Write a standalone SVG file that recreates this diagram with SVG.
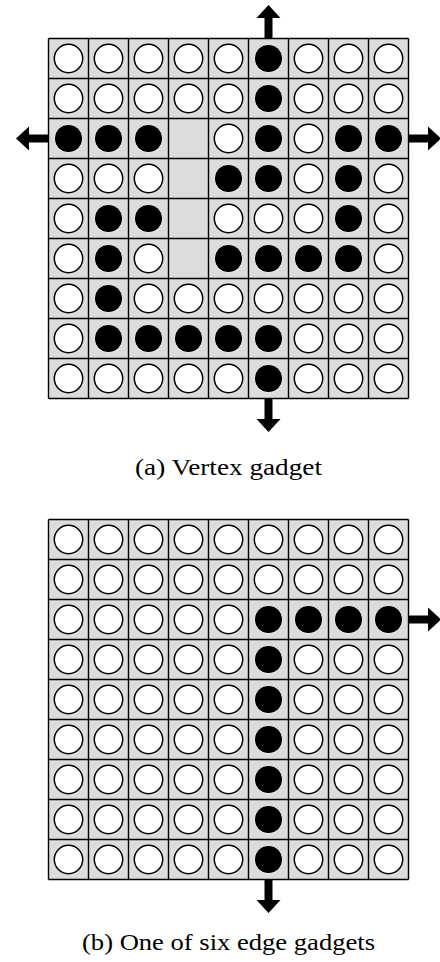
<svg xmlns="http://www.w3.org/2000/svg" width="440" height="962" viewBox="0 0 440 962">
<style>
.bg{fill:#dcdcdc}
.grid{fill:none;stroke:#000;stroke-width:1.4}
.cap{font-family:"Liberation Serif","Times New Roman",Times,serif;font-size:23.5px;fill:#000}
.arrow{fill:#000}
</style>
<defs>
<circle id="w" r="14.2" fill="#fff" stroke="#000" stroke-width="1.5"/>
<circle id="b" r="14.2" fill="#000" stroke="#fff" stroke-width="1"/>
</defs>
<rect width="440" height="962" fill="#fff"/>
<g id="vertex-gadget">
<rect class="bg" x="48.5" y="38.5" width="360" height="360"/>
<path class="grid" d="M48.5 38.5V398.5M88.5 38.5V398.5M128.5 38.5V398.5M168.5 38.5V398.5M208.5 38.5V398.5M248.5 38.5V398.5M288.5 38.5V398.5M328.5 38.5V398.5M368.5 38.5V398.5M408.5 38.5V398.5M48.5 38.5H408.5M48.5 78.5H408.5M48.5 118.5H408.5M48.5 158.5H408.5M48.5 198.5H408.5M48.5 238.5H408.5M48.5 278.5H408.5M48.5 318.5H408.5M48.5 358.5H408.5M48.5 398.5H408.5"/>
<!-- row 0 -->
<use href="#w" x="68.5" y="58.5"/><use href="#w" x="108.5" y="58.5"/><use href="#w" x="148.5" y="58.5"/><use href="#w" x="188.5" y="58.5"/><use href="#w" x="228.5" y="58.5"/><use href="#b" x="268.5" y="58.5"/><use href="#w" x="308.5" y="58.5"/><use href="#w" x="348.5" y="58.5"/><use href="#w" x="388.5" y="58.5"/>
<!-- row 1 -->
<use href="#w" x="68.5" y="98.5"/><use href="#w" x="108.5" y="98.5"/><use href="#w" x="148.5" y="98.5"/><use href="#w" x="188.5" y="98.5"/><use href="#w" x="228.5" y="98.5"/><use href="#b" x="268.5" y="98.5"/><use href="#w" x="308.5" y="98.5"/><use href="#w" x="348.5" y="98.5"/><use href="#w" x="388.5" y="98.5"/>
<!-- row 2 -->
<use href="#b" x="68.5" y="138.5"/><use href="#b" x="108.5" y="138.5"/><use href="#b" x="148.5" y="138.5"/><use href="#w" x="228.5" y="138.5"/><use href="#b" x="268.5" y="138.5"/><use href="#w" x="308.5" y="138.5"/><use href="#b" x="348.5" y="138.5"/><use href="#b" x="388.5" y="138.5"/>
<!-- row 3 -->
<use href="#w" x="68.5" y="178.5"/><use href="#w" x="108.5" y="178.5"/><use href="#w" x="148.5" y="178.5"/><use href="#b" x="228.5" y="178.5"/><use href="#b" x="268.5" y="178.5"/><use href="#w" x="308.5" y="178.5"/><use href="#b" x="348.5" y="178.5"/><use href="#w" x="388.5" y="178.5"/>
<!-- row 4 -->
<use href="#w" x="68.5" y="218.5"/><use href="#b" x="108.5" y="218.5"/><use href="#b" x="148.5" y="218.5"/><use href="#w" x="228.5" y="218.5"/><use href="#w" x="268.5" y="218.5"/><use href="#w" x="308.5" y="218.5"/><use href="#b" x="348.5" y="218.5"/><use href="#w" x="388.5" y="218.5"/>
<!-- row 5 -->
<use href="#w" x="68.5" y="258.5"/><use href="#b" x="108.5" y="258.5"/><use href="#w" x="148.5" y="258.5"/><use href="#b" x="228.5" y="258.5"/><use href="#b" x="268.5" y="258.5"/><use href="#b" x="308.5" y="258.5"/><use href="#b" x="348.5" y="258.5"/><use href="#w" x="388.5" y="258.5"/>
<!-- row 6 -->
<use href="#w" x="68.5" y="298.5"/><use href="#b" x="108.5" y="298.5"/><use href="#w" x="148.5" y="298.5"/><use href="#w" x="188.5" y="298.5"/><use href="#w" x="228.5" y="298.5"/><use href="#w" x="268.5" y="298.5"/><use href="#w" x="308.5" y="298.5"/><use href="#w" x="348.5" y="298.5"/><use href="#w" x="388.5" y="298.5"/>
<!-- row 7 -->
<use href="#w" x="68.5" y="338.5"/><use href="#b" x="108.5" y="338.5"/><use href="#b" x="148.5" y="338.5"/><use href="#b" x="188.5" y="338.5"/><use href="#b" x="228.5" y="338.5"/><use href="#b" x="268.5" y="338.5"/><use href="#w" x="308.5" y="338.5"/><use href="#w" x="348.5" y="338.5"/><use href="#w" x="388.5" y="338.5"/>
<!-- row 8 -->
<use href="#w" x="68.5" y="378.5"/><use href="#w" x="108.5" y="378.5"/><use href="#w" x="148.5" y="378.5"/><use href="#w" x="188.5" y="378.5"/><use href="#w" x="228.5" y="378.5"/><use href="#b" x="268.5" y="378.5"/><use href="#w" x="308.5" y="378.5"/><use href="#w" x="348.5" y="378.5"/><use href="#w" x="388.5" y="378.5"/>
</g>
<g id="edge-gadget">
<rect class="bg" x="48.5" y="519.5" width="360" height="360"/>
<path class="grid" d="M48.5 519.5V879.5M88.5 519.5V879.5M128.5 519.5V879.5M168.5 519.5V879.5M208.5 519.5V879.5M248.5 519.5V879.5M288.5 519.5V879.5M328.5 519.5V879.5M368.5 519.5V879.5M408.5 519.5V879.5M48.5 519.5H408.5M48.5 559.5H408.5M48.5 599.5H408.5M48.5 639.5H408.5M48.5 679.5H408.5M48.5 719.5H408.5M48.5 759.5H408.5M48.5 799.5H408.5M48.5 839.5H408.5M48.5 879.5H408.5"/>
<!-- row 0 -->
<use href="#w" x="68.5" y="539.5"/><use href="#w" x="108.5" y="539.5"/><use href="#w" x="148.5" y="539.5"/><use href="#w" x="188.5" y="539.5"/><use href="#w" x="228.5" y="539.5"/><use href="#w" x="268.5" y="539.5"/><use href="#w" x="308.5" y="539.5"/><use href="#w" x="348.5" y="539.5"/><use href="#w" x="388.5" y="539.5"/>
<!-- row 1 -->
<use href="#w" x="68.5" y="579.5"/><use href="#w" x="108.5" y="579.5"/><use href="#w" x="148.5" y="579.5"/><use href="#w" x="188.5" y="579.5"/><use href="#w" x="228.5" y="579.5"/><use href="#w" x="268.5" y="579.5"/><use href="#w" x="308.5" y="579.5"/><use href="#w" x="348.5" y="579.5"/><use href="#w" x="388.5" y="579.5"/>
<!-- row 2 -->
<use href="#w" x="68.5" y="619.5"/><use href="#w" x="108.5" y="619.5"/><use href="#w" x="148.5" y="619.5"/><use href="#w" x="188.5" y="619.5"/><use href="#w" x="228.5" y="619.5"/><use href="#b" x="268.5" y="619.5"/><use href="#b" x="308.5" y="619.5"/><use href="#b" x="348.5" y="619.5"/><use href="#b" x="388.5" y="619.5"/>
<!-- rows 3-8 -->
<use href="#w" x="68.5" y="659.5"/><use href="#w" x="108.5" y="659.5"/><use href="#w" x="148.5" y="659.5"/><use href="#w" x="188.5" y="659.5"/><use href="#w" x="228.5" y="659.5"/><use href="#b" x="268.5" y="659.5"/><use href="#w" x="308.5" y="659.5"/><use href="#w" x="348.5" y="659.5"/><use href="#w" x="388.5" y="659.5"/>
<use href="#w" x="68.5" y="699.5"/><use href="#w" x="108.5" y="699.5"/><use href="#w" x="148.5" y="699.5"/><use href="#w" x="188.5" y="699.5"/><use href="#w" x="228.5" y="699.5"/><use href="#b" x="268.5" y="699.5"/><use href="#w" x="308.5" y="699.5"/><use href="#w" x="348.5" y="699.5"/><use href="#w" x="388.5" y="699.5"/>
<use href="#w" x="68.5" y="739.5"/><use href="#w" x="108.5" y="739.5"/><use href="#w" x="148.5" y="739.5"/><use href="#w" x="188.5" y="739.5"/><use href="#w" x="228.5" y="739.5"/><use href="#b" x="268.5" y="739.5"/><use href="#w" x="308.5" y="739.5"/><use href="#w" x="348.5" y="739.5"/><use href="#w" x="388.5" y="739.5"/>
<use href="#w" x="68.5" y="779.5"/><use href="#w" x="108.5" y="779.5"/><use href="#w" x="148.5" y="779.5"/><use href="#w" x="188.5" y="779.5"/><use href="#w" x="228.5" y="779.5"/><use href="#b" x="268.5" y="779.5"/><use href="#w" x="308.5" y="779.5"/><use href="#w" x="348.5" y="779.5"/><use href="#w" x="388.5" y="779.5"/>
<use href="#w" x="68.5" y="819.5"/><use href="#w" x="108.5" y="819.5"/><use href="#w" x="148.5" y="819.5"/><use href="#w" x="188.5" y="819.5"/><use href="#w" x="228.5" y="819.5"/><use href="#b" x="268.5" y="819.5"/><use href="#w" x="308.5" y="819.5"/><use href="#w" x="348.5" y="819.5"/><use href="#w" x="388.5" y="819.5"/>
<use href="#w" x="68.5" y="859.5"/><use href="#w" x="108.5" y="859.5"/><use href="#w" x="148.5" y="859.5"/><use href="#w" x="188.5" y="859.5"/><use href="#w" x="228.5" y="859.5"/><use href="#b" x="268.5" y="859.5"/><use href="#w" x="308.5" y="859.5"/><use href="#w" x="348.5" y="859.5"/><use href="#w" x="388.5" y="859.5"/>
</g>
<g id="connectors" class="arrow">
<!-- vertex gadget: up -->
<path d="M264.5 38.5V18H256.5L268.5 5L280.5 18H272.5V38.5Z"/>
<!-- vertex gadget: left -->
<path d="M48.5 134.5H29V126.5L16 138.5L29 150.5V142.5H48.5Z"/>
<!-- vertex gadget: right -->
<path d="M408.5 134.5H428V126.5L441 138.5L428 150.5V142.5H408.5Z"/>
<!-- vertex gadget: down -->
<path d="M264.5 398.5V419H256.5L268.5 432L280.5 419H272.5V398.5Z"/>
<!-- edge gadget: right -->
<path d="M408.5 615.5H428V607.5L441 619.5L428 631.5V623.5H408.5Z"/>
<!-- edge gadget: down -->
<path d="M264.5 879.5V900H256.5L268.5 913L280.5 900H272.5V879.5Z"/>
</g>
<g id="captions">
<text class="cap" x="228.5" y="475" text-anchor="middle" textLength="187" lengthAdjust="spacingAndGlyphs">(a) Vertex gadget</text>
<text class="cap" x="228.5" y="950" text-anchor="middle" textLength="293" lengthAdjust="spacingAndGlyphs">(b) One of six edge gadgets</text>
</g>
</svg>
